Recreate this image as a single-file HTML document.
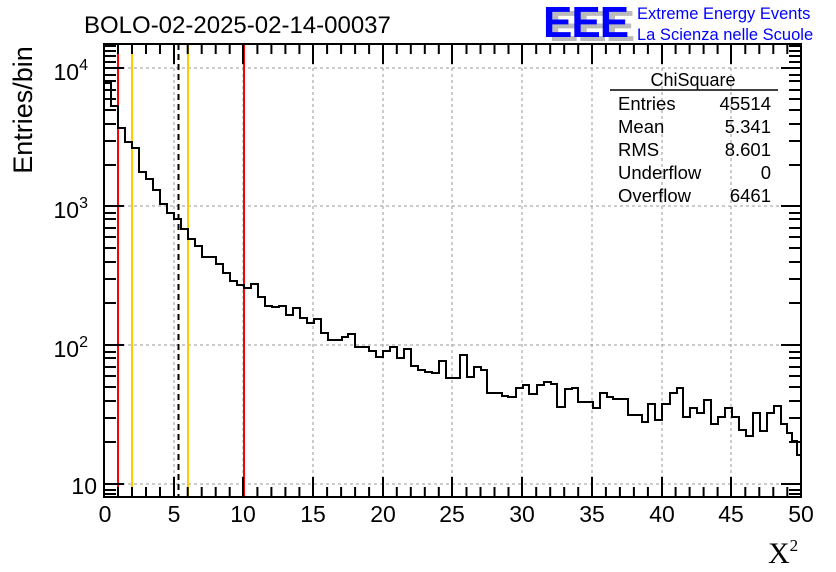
<!DOCTYPE html>
<html><head><meta charset="utf-8"><style>
html,body{margin:0;padding:0;background:#fff;}
svg{display:block;font-family:"Liberation Sans",sans-serif;}
</style></head><body>
<svg width="836" height="572" viewBox="0 0 836 572" xmlns="http://www.w3.org/2000/svg">
<rect width="836" height="572" fill="#fff"/>
<g stroke="#999" stroke-width="1" stroke-dasharray="3,3">
<line x1="174" y1="44" x2="174" y2="497"/><line x1="243" y1="44" x2="243" y2="497"/>
<line x1="313" y1="44" x2="313" y2="497"/><line x1="383" y1="44" x2="383" y2="497"/>
<line x1="452" y1="44" x2="452" y2="497"/><line x1="522" y1="44" x2="522" y2="497"/>
<line x1="592" y1="44" x2="592" y2="497"/><line x1="662" y1="44" x2="662" y2="497"/>
<line x1="731" y1="44" x2="731" y2="497"/>
<line x1="104" y1="68" x2="801" y2="68"/><line x1="104" y1="206" x2="801" y2="206"/>
<line x1="104" y1="345" x2="801" y2="345"/><line x1="104" y1="484" x2="801" y2="484"/>
</g>
<line x1="118" y1="44" x2="118" y2="497" stroke="#f00" stroke-width="2"/>
<line x1="244" y1="44" x2="244" y2="497" stroke="#f00" stroke-width="2"/>
<line x1="132" y1="44" x2="132" y2="497" stroke="#fc0" stroke-width="2"/>
<line x1="188" y1="44" x2="188" y2="497" stroke="#fc0" stroke-width="2"/>
<line x1="178.5" y1="44" x2="178.5" y2="497" stroke="#000" stroke-width="2" stroke-dasharray="6,4"/>
<path fill="none" stroke="#000" stroke-width="2" d="M104,83 H111 V106 H118 V128 H125 V142 H132 V148 H139 V172 H146 V179 H153 V190 H160 V204 H167 V213 H174 V219 H181 V229 H188 V239 H195 V246 H202 V257 H216 V264 H223 V273 H230 V281 H237 V285 H244 V288 H251 V284 H258 V297 H265 V306 H272 V307 H279 V306 H286 V315 H293 V308 H300 V318 H307 V323 H314 V319 H321 V333 H328 V340 H342 V337 H348 V334 H355 V347 H369 V351 H376 V357 H383 V351 H390 V347 H397 V358 H404 V349 H411 V366 H418 V370 H425 V372 H432 V373 H439 V361 H446 V378 H460 V355 H467 V377 H474 V367 H481 V370 H487 V393 H502 V396 H508 V397 H516 V388 H523 V385 H529 V394 H537 V385 H544 V382 H551 V384 H557 V407 H565 V389 H572 V388 H578 V402 H593 V408 H600 V393 H607 V397 H613 V399 H628 V415 H642 V422 H648 V404 H655 V420 H662 V404 H670 V393 H677 V388 H683 V417 H690 V408 H697 V413 H704 V400 H711 V424 H718 V417 H725 V408 H732 V417 H739 V430 H746 V436 H753 V413 H760 V431 H767 V413 H774 V406 H781 V424 H787 V433 H792 V441 H797 V455 H801"/>
<rect x="104" y="44" width="697" height="453" fill="none" stroke="#000" stroke-width="2"/>
<g stroke="#000" stroke-width="2">
<path d="M104,497v-20M174,497v-20M243,497v-20M313,497v-20M383,497v-20M452,497v-20M522,497v-20M592,497v-20M662,497v-20M731,497v-20M801,497v-20
M104,44v20M174,44v20M243,44v20M313,44v20M383,44v20M452,44v20M522,44v20M592,44v20M662,44v20M731,44v20"/>
<path id="mx" d="M118,497v-10M132,497v-10M146,497v-10M160,497v-10M118,44v10M132,44v10M146,44v10M160,44v10"/>
<use href="#mx" x="69.7"/><use href="#mx" x="139.4"/><use href="#mx" x="209.1"/><use href="#mx" x="278.8"/>
<use href="#mx" x="348.5"/><use href="#mx" x="418.2"/><use href="#mx" x="487.9"/><use href="#mx" x="557.6"/><use href="#mx" x="627.3"/>
<path d="M104,68h20M104,206h20M104,345h20M104,484h20M801,68h-20M801,206h-20M801,345h-20M801,484h-20"/>
<path id="my" d="M104,442h12M104,418h12M104,401h12M104,387h12M104,376h12M104,367h12M104,358h12M104,352h12M801,442h-12M801,418h-12M801,401h-12M801,387h-12M801,376h-12M801,367h-12M801,358h-12M801,352h-12"/>
<use href="#my" y="-139"/><use href="#my" y="-277"/>
<path d="M104,494h12M801,494h-12M104,490h12M801,490h-12M104,62h12M801,62h-12M104,56h12M801,56h-12M104,51h12M801,51h-12M104,46h12M801,46h-12"/>
</g>
<g font-size="23" text-anchor="middle" fill="#000">
<text x="105" y="522">0</text><text x="174" y="522">5</text><text x="243" y="522">10</text>
<text x="313" y="522">15</text><text x="383" y="522">20</text><text x="452" y="522">25</text>
<text x="522" y="522">30</text><text x="592" y="522">35</text><text x="662" y="522">40</text>
<text x="731" y="522">45</text><text x="801" y="522">50</text>
</g>
<g font-size="23" fill="#000" text-anchor="end">
<text x="88" y="80">10<tspan font-size="16" dy="-10">4</tspan></text>
<text x="88" y="218">10<tspan font-size="16" dy="-10">3</tspan></text>
<text x="88" y="357">10<tspan font-size="16" dy="-10">2</tspan></text>
<text x="97" y="494">10</text>
</g>
<text transform="translate(32,110) rotate(-90)" font-size="27" text-anchor="middle">Entries/bin</text>
<text x="768" y="563" font-size="30" font-family="Liberation Serif,serif">X<tspan font-size="17" dy="-12">2</tspan></text>
<text x="84" y="33" font-size="24">BOLO-02-2025-02-14-00037</text>
<text x="549" y="41" font-size="44" font-weight="bold" fill="#bbb" letter-spacing="-1">EEE</text>
<text x="543" y="37" font-size="44" font-weight="bold" fill="#00f" letter-spacing="-1">EEE</text>
<text x="637" y="19" font-size="16.5" fill="#00f">Extreme Energy Events</text>
<text x="637" y="40" font-size="16.5" fill="#00f">La Scienza nelle Scuole</text>
<text x="693" y="86" font-size="18" text-anchor="middle">ChiSquare</text>
<line x1="610" y1="90" x2="778" y2="90" stroke="#000" stroke-width="1.5"/>
<g font-size="18.5">
<text x="618" y="110">Entries</text><text x="771" y="110" text-anchor="end">45514</text>
<text x="618" y="133">Mean</text><text x="771" y="133" text-anchor="end">5.341</text>
<text x="618" y="156">RMS</text><text x="771" y="156" text-anchor="end">8.601</text>
<text x="618" y="179">Underflow</text><text x="771" y="179" text-anchor="end">0</text>
<text x="618" y="202">Overflow</text><text x="771" y="202" text-anchor="end">6461</text>
</g>
</svg>
</body></html>
